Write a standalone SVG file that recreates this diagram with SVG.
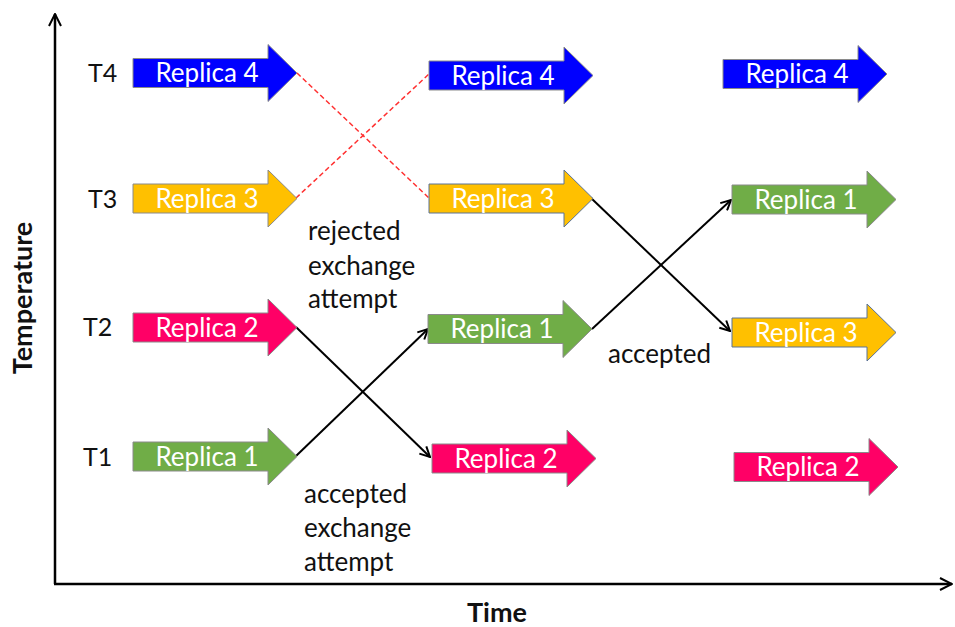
<svg xmlns="http://www.w3.org/2000/svg" width="955" height="627" viewBox="0 0 955 627">
<style>
.arr{stroke:#8a8a8a;stroke-width:1}
.blue{fill:#0000FF}.yel{fill:#FFC000}.pink{fill:#FF0066}.grn{fill:#70AD47}
.lbl{font-family:Lato,"Liberation Sans",sans-serif;font-size:26px;fill:#FFFFFF;text-anchor:middle}
.txt{font-family:Lato,"Liberation Sans",sans-serif;font-size:26px;fill:#111111}
.tl{font-family:Lato,"Liberation Sans",sans-serif;font-size:25px;fill:#111111}
.axl{font-family:Lato,"Liberation Sans",sans-serif;font-size:27px;font-weight:bold;fill:#111111;text-anchor:middle}
.conn{stroke:#000;stroke-width:2;fill:none}
.dash{stroke:#FF3030;stroke-width:1.5;fill:none;stroke-dasharray:5 3}
.axis{stroke:#000;stroke-width:2.5;fill:none}
</style>
<defs>
<path id="ar" d="M0,-14.5 H135 V-28.5 L164,0 L135,28.5 V14.5 H0 Z"/>
<marker id="chev" viewBox="0 0 12 12" refX="11" refY="6" markerWidth="12" markerHeight="12" markerUnits="userSpaceOnUse" orient="auto">
<path d="M1,1 L11,6 L1,11" fill="none" stroke="#000" stroke-width="2"/>
</marker>
<marker id="axchev" viewBox="0 0 14 14" refX="13" refY="7" markerWidth="14" markerHeight="14" markerUnits="userSpaceOnUse" orient="auto">
<path d="M1,1 L13,7 L1,13" fill="none" stroke="#000" stroke-width="2"/>
</marker>
</defs>

<g id="axes">
<path class="axis" d="M55,584 V14" marker-end="url(#axchev)"/>
<path class="axis" d="M54,584 H952" marker-end="url(#axchev)"/>
<text class="axl" transform="translate(32,298) rotate(-90)">Temperature</text>
<text class="axl" x="497" y="622">Time</text>
</g>

<g id="tlabels">
<text class="tl" x="88" y="82">T4</text>
<text class="tl" x="88" y="208">T3</text>
<text class="tl" x="83" y="336">T2</text>
<text class="tl" x="83" y="466">T1</text>
</g>

<g id="connectors">
<path class="dash" d="M297,73 L429,198"/>
<path class="dash" d="M296,198 L429,74"/>
<path class="conn" d="M296,327 L430,457" marker-end="url(#chev)"/>
<path class="conn" d="M296,456 L428,329" marker-end="url(#chev)"/>
<path class="conn" d="M591,198 L730,331" marker-end="url(#chev)"/>
<path class="conn" d="M592,329 L731,200" marker-end="url(#chev)"/>
</g>

<g id="c1t4" transform="translate(133,73)"><use href="#ar" class="arr blue"/><text class="lbl" x="74" y="9">Replica 4</text></g>
<g id="c1t3" transform="translate(133,198.5)"><use href="#ar" class="arr yel"/><text class="lbl" x="74" y="9">Replica 3</text></g>
<g id="c1t2" transform="translate(133,327.5)"><use href="#ar" class="arr pink"/><text class="lbl" x="74" y="9">Replica 2</text></g>
<g id="c1t1" transform="translate(133,456.5)"><use href="#ar" class="arr grn"/><text class="lbl" x="74" y="9">Replica 1</text></g>

<g id="c2t4" transform="translate(429,75.5)"><use href="#ar" class="arr blue"/><text class="lbl" x="74" y="9">Replica 4</text></g>
<g id="c2t3" transform="translate(429,198.5)"><use href="#ar" class="arr yel" style="stroke:#5b7396"/><text class="lbl" x="74" y="9">Replica 3</text></g>
<g id="c2t2" transform="translate(428,329)"><use href="#ar" class="arr grn"/><text class="lbl" x="74" y="9">Replica 1</text></g>
<g id="c2t1" transform="translate(432,458.5)"><use href="#ar" class="arr pink"/><text class="lbl" x="74" y="9">Replica 2</text></g>

<g id="c3t4" transform="translate(723,74)"><use href="#ar" class="arr blue"/><text class="lbl" x="74" y="9">Replica 4</text></g>
<g id="c3t3" transform="translate(732,199.5)"><use href="#ar" class="arr grn"/><text class="lbl" x="74" y="9">Replica 1</text></g>
<g id="c3t2" transform="translate(732,332.5)"><use href="#ar" class="arr yel" style="stroke:#5b7396"/><text class="lbl" x="74" y="9">Replica 3</text></g>
<g id="c3t1" transform="translate(734,467)"><use href="#ar" class="arr pink"/><text class="lbl" x="74" y="9">Replica 2</text></g>

<g id="notes">
<text class="txt" x="308" y="240">rejected</text>
<text class="txt" x="308" y="275">exchange</text>
<text class="txt" x="308" y="308">attempt</text>
<text class="txt" x="304" y="503">accepted</text>
<text class="txt" x="304" y="537">exchange</text>
<text class="txt" x="304" y="571">attempt</text>
<text class="txt" x="608" y="363">accepted</text>
</g>
</svg>
